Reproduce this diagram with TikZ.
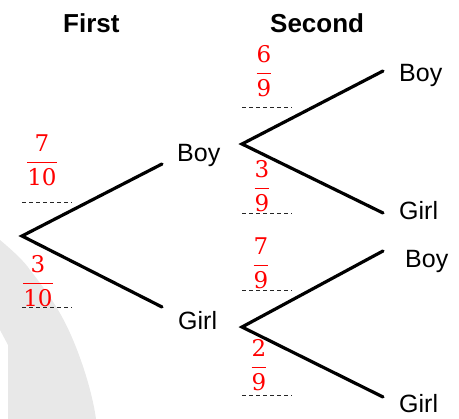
\documentclass[tikz,border=0pt]{standalone}
\usepackage{fontspec}
\setmainfont{Liberation Sans}
\newfontfamily\fracfont{DejaVu Serif}
\newcommand{\pfrac}[2]{$\displaystyle{\hbox{\fracfont #1}\above 1.6pt\hbox{\fracfont #2}}$}
\begin{document}
\begin{tikzpicture}[x=1pt,y=-1pt,
  branch/.style={line width=3.2pt, line cap=round},
  guide/.style={line width=0.9pt, dash pattern=on 4pt off 3pt, black!85},
  lbl/.style={inner sep=0pt, anchor=base west, font=\fontsize{25}{28}\selectfont},
  head/.style={inner sep=0pt, anchor=base west, font=\fontsize{26}{30}\selectfont\bfseries},
  prob/.style={inner sep=0pt, anchor=base, text=red, font=\fontsize{23}{28}\selectfont}]
\useasboundingbox (0,0) rectangle (459,419);
% watermark fragment
\fill[gray!18] (0,240) .. controls (12,250) and (25,262) .. (30,270)
  .. controls (50,295) and (62,315) .. (70,333)
  .. controls (80,355) and (92,390) .. (96,419)
  -- (8,419) -- (8,345) -- (0,330) -- cycle;
% headings
\node[head] (hfirst) at (63,33) {First};
\node[head] (hsecond) at (270,33) {Second};
% tree points
\coordinate (root) at (22,236);
\coordinate (b1) at (162,164);
\coordinate (g1) at (162,307);
\coordinate (b1s) at (242,144);
\coordinate (g1s) at (242,327);
\coordinate (bb) at (383,71);
\coordinate (bg) at (383,213);
\coordinate (gb) at (383,251);
\coordinate (gg) at (383,397);
\draw[branch] (b1) -- (root) -- (g1);
\draw[branch] (bb) -- (b1s) -- (bg);
\draw[branch] (gb) -- (g1s) -- (gg);
% labels
\node[lbl] (lb1) at (177,162) {Boy};
\node[lbl] (lg1) at (178,330) {Girl};
\node[lbl] (lbb) at (399,82) {Boy};
\node[lbl] (lbg) at (399,220) {Girl};
\node[lbl] (lgb) at (405,268) {Boy};
\node[lbl] (lgg) at (399,413) {Girl};
% probabilities (base = bar + math axis)
\node[prob] (p1) at (42,168.8) {\pfrac{7}{10}};
\node[prob] (p2) at (38,289.8) {\pfrac{3}{10}};
\node[prob] (p3) at (264,79.8) {\pfrac{6}{9}};
\node[prob] (p4) at (262,194.8) {\pfrac{3}{9}};
\node[prob] (p5) at (261,271.8) {\pfrac{7}{9}};
\node[prob] (p6) at (259,373.8) {\pfrac{2}{9}};
% dashed guides
\coordinate (d1a) at (22,202); \coordinate (d1b) at (72,202);
\coordinate (d2a) at (22,307); \coordinate (d2b) at (72,307);
\coordinate (d3a) at (242,107); \coordinate (d3b) at (292,107);
\coordinate (d4a) at (242,213); \coordinate (d4b) at (292,213);
\coordinate (d5a) at (242,290); \coordinate (d5b) at (292,290);
\coordinate (d6a) at (242,395); \coordinate (d6b) at (292,395);
\draw[guide] (d1a) -- (d1b);
\draw[guide] (d2a) -- (d2b);
\draw[guide] (d3a) -- (d3b);
\draw[guide] (d4a) -- (d4b);
\draw[guide] (d5a) -- (d5b);
\draw[guide] (d6a) -- (d6b);
\end{tikzpicture}
\end{document}
